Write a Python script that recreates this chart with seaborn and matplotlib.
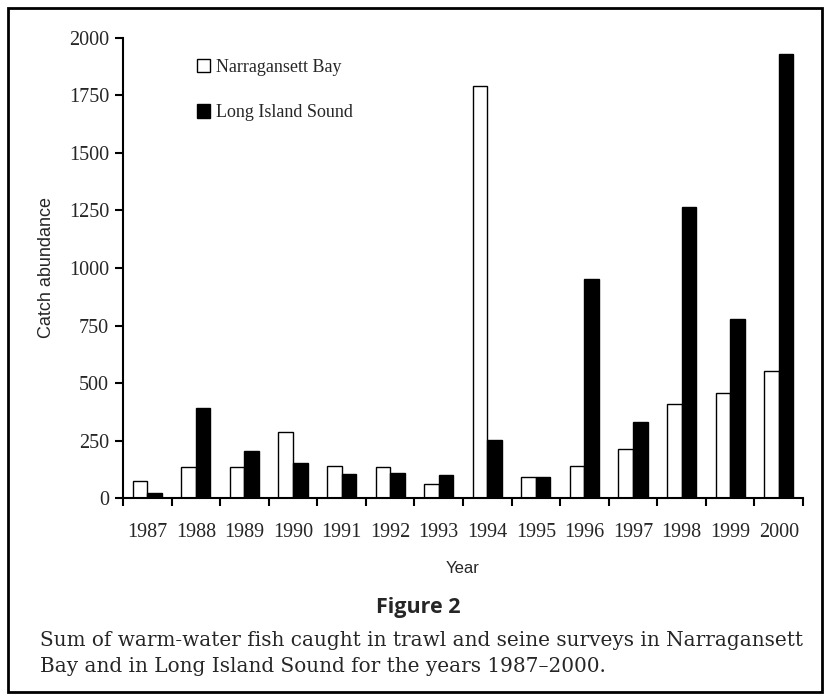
import matplotlib
matplotlib.use("Agg")
import matplotlib.pyplot as plt
from matplotlib.patches import Patch, Rectangle
import numpy as np
import pandas as pd
import seaborn as sns

years = ["1987", "1988", "1989", "1990", "1991", "1992", "1993",
         "1994", "1995", "1996", "1997", "1998", "1999", "2000"]
narragansett = [75, 136, 136, 289, 140, 136, 60, 1792, 90, 140, 213, 408, 458, 551]
long_island = [20, 392, 204, 153, 105, 110, 98, 252, 90, 953, 331, 1264, 780, 1929]
sites = ["Narragansett Bay", "Long Island Sound"]
y_ticks = [0, 250, 500, 750, 1000, 1250, 1500, 1750, 2000]

df = pd.DataFrame({
    "Year": years * 2,
    "Catch": narragansett + long_island,
    "Site": [sites[0]] * len(years) + [sites[1]] * len(years),
})

sns.set_style("ticks")
plt.rcParams["font.family"] = ["Liberation Serif", "DejaVu Serif"]

fig = plt.figure(figsize=(8.28, 6.98), dpi=100)
ax = fig.add_axes([0.1486, 0.2865, 0.8212, 0.6591])

colors = {sites[0]: "white", sites[1]: "black"}
sns.barplot(data=df, x="Year", y="Catch", hue="Site", palette=colors,
            width=0.6, edgecolor="black", linewidth=1.0, saturation=1,
            legend=False, ax=ax)

ax.set_xlim(-0.5, len(years) - 0.5)
ax.set_ylim(0, 2000)
ax.set_yticks(y_ticks)
ax.set_yticklabels([str(v) for v in y_ticks], fontsize=14.5)

# ticks at the group borders, labels in the middle of each group
ax.set_xticks(np.arange(-0.5, len(years)), labels=[""] * (len(years) + 1))
ax.set_xticks(np.arange(len(years)), labels=years, minor=True)
ax.tick_params(axis="x", which="minor", length=0, labelsize=14.5, pad=18)
ax.tick_params(axis="both", which="major", length=6, width=1.5, color="black")
ax.tick_params(axis="y", pad=4)

for side in ["top", "right"]:
    ax.spines[side].set_visible(False)
for side in ["left", "bottom"]:
    ax.spines[side].set_linewidth(1.5)
    ax.spines[side].set_color("black")

ax.set_xlabel("Year", fontsize=12, family="Liberation Sans", labelpad=14)
ax.set_ylabel("Catch abundance", fontsize=13, family="Liberation Sans", labelpad=10)

handles = [Patch(facecolor=colors[s], edgecolor="black", linewidth=1.0) for s in sites]
ax.legend(handles, sites, loc="upper left", bbox_to_anchor=(0.095, 0.975),
          frameon=False, fontsize=13, handlelength=0.75, handleheight=0.75,
          handletextpad=0.3, labelspacing=1.6, borderpad=0)

fig.text(0.505, 1 - 608 / 698, "Figure 2", ha="center", va="center",
         fontsize=15.5, fontweight="bold", family="Open Sans")
fig.text(40 / 828, 1 - 640 / 698,
         "Sum of warm-water fish caught in trawl and seine surveys in Narragansett",
         ha="left", va="center", fontsize=14.4, family="DejaVu Serif")
fig.text(40 / 828, 1 - 667 / 698,
         "Bay and in Long Island Sound for the years 1987\u20132000.",
         ha="left", va="center", fontsize=14.4, family="DejaVu Serif")

# outer frame round the whole figure
fig.patches.append(Rectangle((8 / 828, 6 / 698), 814 / 828, 684 / 698,
                             transform=fig.transFigure, fill=False,
                             edgecolor="black", linewidth=2))

fig.savefig("out.png", dpi=100)
